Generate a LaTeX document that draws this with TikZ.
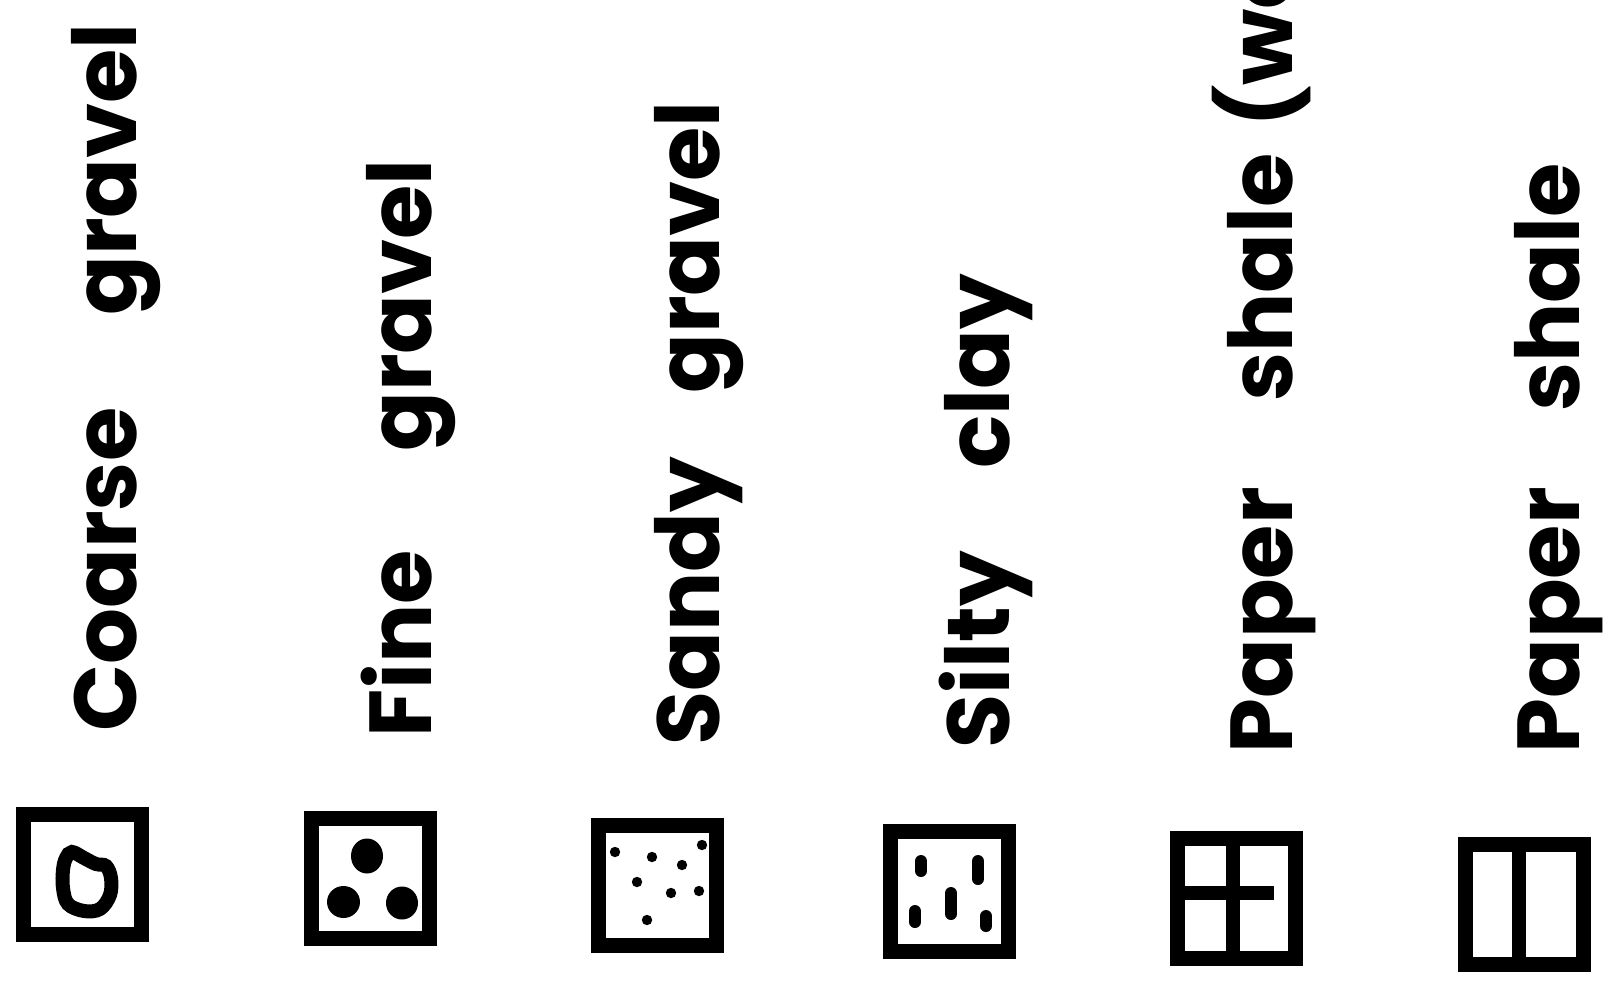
\documentclass[tikz,border=0pt]{standalone}
\usepackage{fontspec}
\setmainfont{Poppins}
\usepackage{tikz}
\usetikzlibrary{positioning}

\begin{document}
\begin{tikzpicture}[
  x=0.5pt, y=-0.5pt,
  sym/.style={draw, line width=7.5pt, minimum width=59pt, minimum height=60pt, inner sep=0pt, outer sep=0pt},
  lbl/.style={rotate=90, anchor=base west, inner sep=0pt, font=\bfseries\fontsize{44}{48}\selectfont},
  bar/.style={line width=7pt},
  streak/.style={line width=6pt, line cap=round}
]
\clip (0,0) rectangle (1608,1002);

% symbols
\node[sym] (coarse) at (82.5,874.5) {};
\node[sym] (fine)   at (370.5,878.5) {};
\node[sym] (sandy)  at (657,885) {};
\node[sym] (silty)  at (949,891.5) {};
\node[sym] (weath)  at (1236.5,898.5) {};
\node[sym] (paper)  at (1524,904.5) {};

% labels, one node per word
\node[lbl] (tcoarse1) at (136,732)  {Coarse};
\node[lbl] (tcoarse2) at (136,316)  {gravel};
\node[lbl] (tfine1)   at (431,738)  {Fine};
\node[lbl] (tfine2)   at (431,452)  {gravel};
\node[lbl] (tsandy1)  at (719,746)  {Sandy};
\node[lbl] (tsandy2)  at (719,394)  {gravel};
\node[lbl] (tsilty1)  at (1009,749) {Silty};
\node[lbl] (tsilty2)  at (1009,469) {clay};
\node[lbl] (tweath1)  at (1292,754) {Paper};
\node[lbl] (tweath2)  at (1292,402) {shale};
\node[lbl] (tweath3)  at (1292,128) {(we};
\node[lbl] (tpaper1)  at (1579,754) {Paper};
\node[lbl] (tpaper2)  at (1579,412) {shale};

% pebble
\begin{scope}[shift={(coarse.center)}]
  \draw[line width=7pt] plot[smooth cycle, tension=0.6] coordinates {
    (-10.5,-22.5) (1.5,-16.5) (13.5,-10.5) (23.5,-8.5) (28.5,3.5) (27.5,20.5)
    (17.5,34.5) (1.5,36.5) (-14.5,29.5) (-19.5,13.5) (-19.5,-4.5) (-16.5,-16.5)};
\end{scope}

% three pebbles
\begin{scope}[shift={(fine.center)}]
  \fill (-3.5,-22.5) ellipse [x radius=16, y radius=17.5];
  \fill (-27,23.5) ellipse [x radius=16.5, y radius=16];
  \fill (31.5,24.5) ellipse [x radius=16, y radius=16.5];
\end{scope}

% sand grains
\begin{scope}[shift={(sandy.center)}]
  \foreach \p in {(-42,-33), (-5,-28), (25,-20), (45,-40), (-20,-3), (14,8), (42,6), (-10,35)}
    \fill \p circle [radius=2.6pt];
\end{scope}

% silt streaks
\begin{scope}[shift={(silty.center)}]
  \draw[streak] (-28,-30.5) -- (-28,-20.5);
  \draw[streak] (29,-30.5) -- (29,-12.5);
  \draw[streak] (2,1.5) -- (2,22.5);
  \draw[streak] (-34,19.5) -- (-34,30.5);
  \draw[streak] (37,24.5) -- (37,34.5);
\end{scope}

% shale partitions
\draw[bar] ([xshift=-1.75pt]weath.north) -- ([xshift=-1.75pt]weath.south);
\draw[bar] ([yshift=2.75pt]weath.west) -- ([xshift=18.75pt,yshift=2.75pt]weath.center);
\draw[bar] ([xshift=-2.5pt]paper.north) -- ([xshift=-2.5pt]paper.south);
\end{tikzpicture}
\end{document}
